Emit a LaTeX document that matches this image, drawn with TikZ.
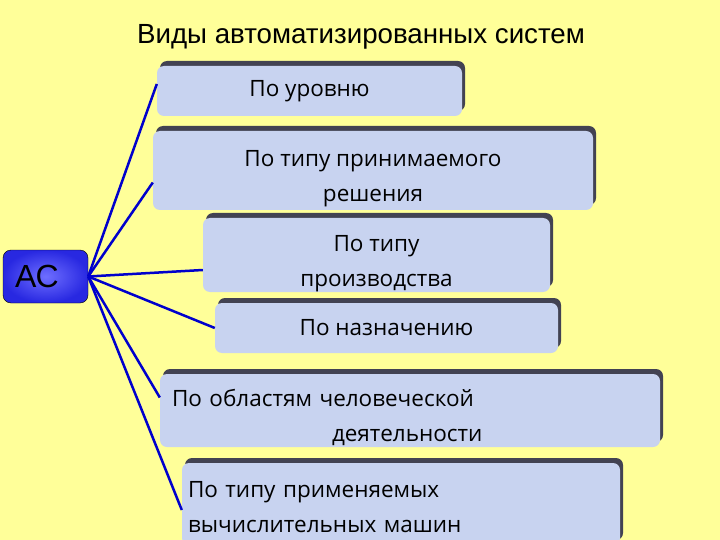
\documentclass[tikz,border=0pt]{standalone}
\usepackage{fontspec}
\setmainfont{Liberation Sans}
\newfontfamily\boxfont{Open Sans}
\usetikzlibrary{shadows}

\definecolor{slideyellow}{RGB}{255,255,153}
\definecolor{boxblue}{RGB}{200,211,240}
\definecolor{boxshade}{RGB}{66,66,82}
\definecolor{linkblue}{RGB}{0,0,204}
\definecolor{acblue}{RGB}{40,40,225}
\definecolor{aclight}{RGB}{110,110,255}

\tikzset{
  box/.style={rounded corners=7pt, fill=boxblue, inner sep=6pt, align=center,
    font=\boxfont\fontsize{22.5}{35}\selectfont,
    drop shadow={shadow xshift=3pt, shadow yshift=5pt, fill=boxshade, opacity=1}},
  twoline/.style={text height=62pt, text depth=0pt, inner ysep=2pt},
  link/.style={draw=linkblue, line width=2.5pt}
}

\begin{document}
\begin{tikzpicture}[x=1pt,y=-1pt]

  \fill[slideyellow] (0,0) rectangle (720,540);
  \useasboundingbox (0,0) rectangle (720,540);

  % title
  \node (title) at (361,37) {\fontsize{27.7}{32}\selectfont Виды автоматизированных систем};

  % nodes
  \node[draw=black, rounded corners=8pt, inner color=aclight, outer color=acblue,
        minimum height=53pt, text width=61pt, inner xsep=12pt, align=left,
        font=\fontsize{32}{36}\selectfont] (ac) at (45.5,276.5) {АС};
  \node[box, minimum width=305pt, minimum height=50pt] (level) at (309.5,91) {По уровню};
  \node[box, twoline, minimum width=440pt, minimum height=79pt] (decision) at (373,170.5)
        {По типу принимаемого\\решения};
  \node[box, twoline, minimum width=347pt, minimum height=74pt] (production) at (376.5,255)
        {По типу\\производства};
  \node[box, minimum width=343pt, minimum height=50pt] (purpose) at (386.5,328) {По назначению};
  \node[box, text depth=25pt, minimum height=73pt, text width=476pt, inner xsep=12pt,
        align=left] (field) at (410,410.5)
        {По областям человеческой\\\hspace*{160pt}деятельности};
  \node[box, text depth=30pt, minimum height=82pt, text width=426pt, align=left] (computer)
        at (401,504) {По типу применяемых\\вычислительных машин};

  % lines
  \draw[link] (ac.east) -- ([yshift=7pt]level.west);
  \draw[link] (ac.east) -- ([yshift=-12pt]decision.west);
  \draw[link] (ac.east) -- ([yshift=-15pt]production.west);
  \draw[link] (ac.east) -- (purpose.west);
  \draw[link] (ac.east) -- ([yshift=13pt]field.west);
  \draw[link] (ac.east) -- ([yshift=-6pt]computer.west);

\end{tikzpicture}
\end{document}
